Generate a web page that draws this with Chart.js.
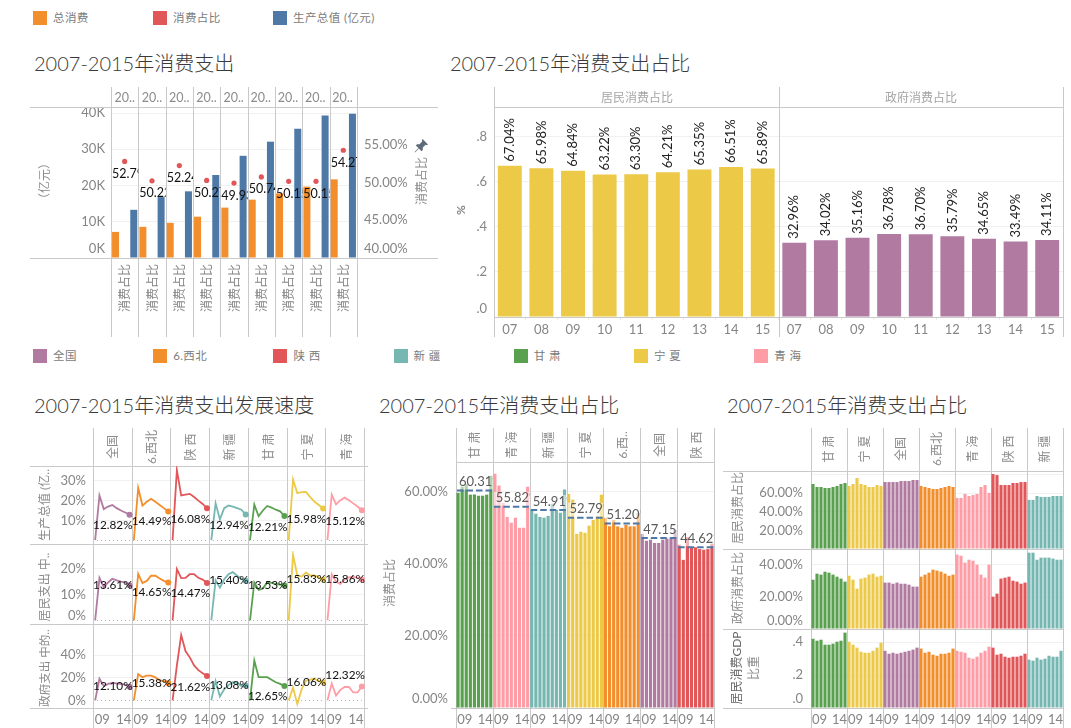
<!DOCTYPE html>
<html>
<head>
<meta charset="utf-8">
<script src="https://cdn.jsdelivr.net/npm/chart.js@4"></script>
<style>
body { margin: 0; background: #fff; overflow: hidden; font-family: Lato, 'Noto Sans CJK SC', sans-serif; }
#board { position: relative; width: 1071px; height: 728px; overflow: hidden; }
#board canvas, .txt, .swatch { position: absolute; }
.txt { white-space: pre; line-height: 1; transform: translate(-50%, -50%); }
.title { white-space: pre; position: absolute; font-size: 20px; font-weight: 300; color: #3a3a3a; line-height: 1; transform: translateY(-50%); }
</style>
</head>
<body>
<div id="board"></div>
<script>
// ---- data ----
const years = ['07', '08', '09', '10', '11', '12', '13', '14', '15']

const totalConsumption = [7200, 8600, 9700, 11400, 13900, 16100, 17800, 19700, 21700]
const consumptionShare = [52.79, 50.22, 52.24, 50.27, 49.93, 50.74, 50.15, 50.15, 54.27]
const grossOutput = [13300, 16800, 18400, 22900, 28200, 32100, 35700, 39300, 39800]

const residentShare = [67.04, 65.98, 64.84, 63.22, 63.30, 64.21, 65.35, 66.51, 65.89]
const governmentShare = [32.96, 34.02, 35.16, 36.78, 36.70, 35.79, 34.65, 33.49, 34.11]

// development speed, columns: 全国 6.西北 陕西 新疆 甘肃 宁夏 青海
const speedGdp = [
    [0, 22.6, 15.7, 17, 17.8, 16.2, 15, 14, 12.82],
    [0, 26.4, 17.5, 19.4, 20.9, 19.4, 17.8, 16.2, 14.49],
    [0, 35.4, 22.6, 23, 23.4, 21.8, 20, 18.3, 16.08],
    [0, 18.6, 10.5, 16.2, 17.5, 17, 16.2, 15.4, 12.94],
    [0, 18, 12.1, 15, 17.3, 16.5, 15.4, 14.6, 12.21],
    [0, 30.7, 23.8, 24.3, 24.4, 21.8, 19.4, 17.8, 15.98],
    [0, 23.1, 18.1, 20.2, 21.5, 20.2, 18.6, 17, 15.12]
]
const speedResident = [
    [0, 16.5, 12.9, 14.7, 16.1, 15.5, 15, 14.7, 13.61],
    [0, 18, 14.5, 15.3, 17.3, 17.3, 16.2, 15.3, 14.65],
    [0, 19.9, 16.4, 16.5, 17.9, 17.9, 16.5, 15.8, 14.47],
    [0, 15.5, 12.7, 15.9, 17.9, 18.7, 17.3, 16.1, 15.40],
    [0, 14.7, 11.8, 12.4, 14.7, 14.5, 14.1, 13.9, 13.53],
    [0, 25.4, 17.4, 17, 18.6, 17.4, 17.4, 16.7, 15.83],
    [0, 17.9, 15, 14.1, 15.9, 16.7, 16.9, 16.5, 15.86]
]
const speedGovernment = [
    [0, 19.1, 12.7, 14.6, 15.5, 14.9, 14.6, 14, 12.10],
    [0, 23.3, 20.5, 21.9, 21.9, 20.3, 17.7, 16.9, 15.38],
    [0, 30.9, 57.7, 43.6, 38, 30.9, 26.7, 23.9, 21.62],
    [0, 17.2, 3.4, 9.8, 13.5, 16, 15.5, 12.7, 13.08],
    [0, 35.2, 20.5, 20.5, 20.5, 18.3, 16, 14.6, 12.65],
    [0, 11.3, -3.4, 9.8, 17.4, 18.3, 19.1, 16.9, 16.06],
    [0, 14.9, 4.2, 9.3, 11.8, 11.8, 7, 7, 12.32]
]

// consumption share by region, columns: 甘肃 青海 新疆 宁夏 6.西北 全国 陕西
const shareByRegion = [
    [59.7, 61.4, 62.1, 59.2, 59.2, 58.9, 58.9, 59.2, 64.4],
    [65, 61.7, 56.9, 53, 51.4, 52.8, 50, 50, 61.4],
    [55, 53.9, 53, 52.8, 53.3, 56.7, 55, 54.2, 60.6],
    [59.4, 57.8, 48.3, 48.9, 48.6, 50.6, 52.2, 53.2, 59.2],
    [52.8, 50.4, 52.2, 50.4, 50, 50.8, 50.4, 50.4, 54.1],
    [48.3, 46.4, 46.7, 45.8, 45.8, 46.7, 47, 47, 49.4],
    [45.3, 41.1, 47.4, 44.6, 44.6, 44.1, 43.9, 44.1, 45.6]
]
const shareAverage = [60.31, 55.82, 54.91, 52.79, 51.20, 47.15, 44.62]

// columns: 甘肃 宁夏 全国 6.西北 青海 陕西 新疆
const residentByRegion = [
    [70, 66.8, 66.8, 65.7, 65.7, 66.8, 67.9, 70, 71.1],
    [67.9, 70, 76.4, 70, 68.9, 66.8, 66.8, 68.9, 67.9],
    [72.1, 72.1, 72.1, 72.1, 73.2, 73.2, 73.2, 74.3, 74.3],
    [67.9, 66.8, 65.7, 64.6, 64.6, 65.7, 66.8, 67.9, 66.8],
    [55, 55, 59.3, 57.1, 58.2, 59.3, 66.8, 68.9, 60.4],
    [80.7, 79.6, 68.9, 68.9, 68.9, 71.1, 71.1, 72.1, 72.1],
    [52.9, 52.9, 57.1, 56.1, 56.1, 56.1, 57.1, 57.1, 57.1]
]
const governmentByRegion = [
    [30.8, 34.6, 34, 35.8, 35.2, 34, 32.7, 31.5, 29.6],
    [33.3, 30.8, 25.2, 31.5, 32.1, 34, 34.6, 32.7, 33.3],
    [29, 29, 28.3, 29, 28.3, 28.3, 27.7, 26.5, 26.5],
    [32.7, 34, 35.2, 37.1, 36.5, 35.8, 34.6, 33.3, 34],
    [46.5, 45.8, 41.5, 43.3, 42.7, 40.2, 34, 32.1, 40.2],
    [20.2, 22.1, 31.5, 32.1, 32.7, 30.2, 29.6, 28.3, 29],
    [47.7, 47.7, 43.3, 44.6, 44.6, 44.6, 44, 43.3, 43.3]
]
const gdpRatioByRegion = [
    [.42, .408, .414, .384, .384, .39, .402, .408, .457],
    [.402, .384, .366, .341, .335, .335, .347, .366, .396],
    [.347, .329, .335, .329, .335, .341, .347, .354, .366],
    [.36, .335, .341, .323, .317, .329, .329, .335, .36],
    [.347, .341, .335, .305, .299, .311, .335, .347, .372],
    [.366, .323, .329, .311, .305, .311, .311, .317, .329],
    [.293, .287, .305, .293, .299, .317, .311, .311, .347]
]

const speedRegions = ['全国', '6.西北', '陕 西', '新 疆', '甘 肃', '宁 夏', '青 海']
const shareRegions = ['甘 肃', '青 海', '新 疆', '宁 夏', '6.西..', '全国', '陕 西']
const ratioRegions = ['甘 肃', '宁 夏', '全国', '6.西北', '青 海', '陕 西', '新 疆']

// ---- styles ----
const ORANGE = '#f28e2b', RED = '#e15759', BLUE = '#4e79a7', PURPLE = '#b07aa1'
const TEAL = '#76b7b2', GREEN = '#59a14f', YELLOW = '#edc948', PINK = '#ff9da7'
const regionColor = { '全国': PURPLE, '6.西北': ORANGE, '6.西..': ORANGE, '陕 西': RED, '新 疆': TEAL, '甘 肃': GREEN, '宁 夏': YELLOW, '青 海': PINK }
const TICK = '#858585', LINE = '#c9c9c9', GRID = '#f1f1f1'

// label offsets below the last point of each small line chart
const speedLabelDy = [
    [10, 10, 11, 11, 11, 11, 11],
    [0, 10, 10, 0, 0, 0, 0],
    [0, 0, 11, 0, 10, 0, -11]
]

Chart.defaults.animation = false
Chart.defaults.font.family = "Lato, 'Noto Sans CJK SC', sans-serif"
Chart.defaults.font.size = 13
Chart.defaults.color = TICK
Chart.defaults.plugins.legend.display = false
Chart.defaults.plugins.tooltip.enabled = false

const board = document.getElementById('board')

const txt = (text, x, y, opts = {}) => {
    const el = document.createElement('div')
    el.className = 'txt'
    el.textContent = text
    el.style.left = x + 'px'
    el.style.top = y + 'px'
    el.style.fontSize = (opts.size || 12) + 'px'
    el.style.color = opts.color || '#8c8c8c'
    if (opts.rot) el.style.transform = 'translate(-50%, -50%) rotate(-90deg)'
    board.appendChild(el)
}

const title = (text, x, y) => {
    const el = document.createElement('div')
    el.className = 'title'
    el.textContent = text
    el.style.left = x + 'px'
    el.style.top = y + 'px'
    board.appendChild(el)
}

const swatch = (color, x, y, label) => {
    const el = document.createElement('div')
    el.className = 'swatch'
    el.style.cssText = `left:${x}px;top:${y}px;width:14px;height:14px;background:${color}`
    board.appendChild(el)
    const t = document.createElement('div')
    t.className = 'title'
    t.textContent = label
    t.style.cssText = `left:${x + 20}px;top:${y + 7}px;font-size:11.5px;font-weight:400;color:#7b7b7b;letter-spacing:.4px`
    board.appendChild(t)
}

const makeChart = (left, top, width, height, config) => {
    const c = document.createElement('canvas')
    c.width = width
    c.height = height
    c.style.left = left + 'px'
    c.style.top = top + 'px'
    c.style.width = width + 'px'
    c.style.height = height + 'px'
    board.appendChild(c)
    config.options.responsive = false
    return new Chart(c, config)
}

// separators between cells, and rules at the top and bottom of the plot
const frame = {
    id: 'frame',
    beforeDatasetsDraw(chart, _, o) {
        const { ctx, chartArea: a } = chart
        ctx.save()
        ctx.strokeStyle = LINE
        ctx.lineWidth = 1
        ctx.beginPath()
        for (let i = 0; i <= o.cells; i++) {
            const x = Math.round(a.left + i * a.width / o.cells) + .5
            ctx.moveTo(x, 0)
            ctx.lineTo(x, chart.height)
        }
        if (o.top) {
            ctx.moveTo(o.topFrom === undefined ? o.from || 0 : o.topFrom, a.top + .5)
            ctx.lineTo(o.to || a.right + 1, a.top + .5)
        }
        ctx.moveTo(o.from || 0, a.bottom + .5)
        ctx.lineTo(o.to || a.right + 1, a.bottom + .5)
        ctx.stroke()
        ctx.restore()
    }
}

// the plot must keep its exact size, so tick labels may not pad the chart area
const fixPadding = (s) => {
    s.paddingTop = 0
    s.paddingBottom = 0
    s.paddingLeft = 0
    s.paddingRight = 0
}

const yAxis = (o) => ({
    type: 'linear',
    position: o.position || 'left',
    min: o.min,
    max: o.max,
    afterBuildTicks: (s) => { s.ticks = o.ticks.map((value) => ({ value })) },
    afterFit: (s) => { s.width = o.width; fixPadding(s) },
    ticks: {
        autoSkip: false,
        padding: o.pad,
        color: TICK,
        // half of the line height is how far a lifted label rises
        font: { size: 13, lineHeight: (o.liftPx || 8.5) * 2 / 13 },
        callback: (v) => {
            if (o.hide && o.hide.includes(v)) return ''
            return o.lift && o.lift.includes(v) ? [o.fmt(v), ''] : o.fmt(v)
        }
    },
    border: { display: false, dash: (ctx) => (o.dotZero && ctx.tick && ctx.tick.value === 0 ? [1, 3] : []) },
    grid: {
        drawOnChartArea: o.grid !== false,
        drawTicks: false,
        color: (ctx) => (o.dotZero && ctx.tick && ctx.tick.value === 0 ? '#b5b5b5' : GRID)
    }
})

const yearAxis = (labels, height, visible) => ({
    type: 'category',
    labels,
    offset: true,
    afterFit: (s) => { s.height = height; fixPadding(s) },
    grid: { display: false, drawTicks: false },
    border: { display: false },
    ticks: {
        display: visible,
        autoSkip: false,
        maxRotation: 0,
        padding: 4,
        labelOffset: -1.5,
        color: TICK,
        font: { size: 13 },
        callback: (v, i) => (i % 9 === 2 ? '09' : i % 9 === 7 ? '14' : '')
    }
})

const yearSlots = speedRegions.flatMap(() => years)

// ---- legends and titles ----
swatch(ORANGE, 33, 11, '总消费')
swatch(RED, 153, 11, '消费占比')
swatch(BLUE, 273, 11, '生产总值 (亿元)')
const legendRegions = ['全国', '6.西北', '陕 西', '新 疆', '甘 肃', '宁 夏', '青 海']
legendRegions.forEach((r, i) => swatch(regionColor[r], 33 + i * 120.2, 349, r))

title('2007-2015年消费支出', 34, 63)
title('2007-2015年消费支出占比', 450, 63)
title('2007-2015年消费支出发展速度', 34, 405)
title('2007-2015年消费支出占比', 379, 405)
title('2007-2015年消费支出占比', 727, 405)

// ---- panel 1: spending ----
const cellSlots = years.flatMap((y) => [y + 'a', y + 'b', y + 'c'])
const shareLabels = {
    id: 'shareLabels',
    afterDatasetsDraw(chart) {
        const { ctx, chartArea: a } = chart
        const cw = a.width / 9
        const pts = chart.getDatasetMeta(2).data
        ctx.save()
        ctx.font = '12.5px Lato'
        ctx.fillStyle = '#111'
        ctx.textBaseline = 'middle'
        consumptionShare.forEach((v, i) => {
            const cellLeft = a.left + i * cw
            ctx.save()
            ctx.beginPath()
            ctx.rect(cellLeft + 1, 0, cw - 1, chart.height)
            ctx.clip()
            ctx.fillText(v.toFixed(2) + '%', cellLeft + 1, pts[i * 3 + 1].y + 12.5)
            ctx.restore()
        })
        ctx.restore()
    }
}
makeChart(30, 87, 408, 250, {
    type: 'bar',
    data: {
        labels: cellSlots,
        datasets: [
            { data: years.flatMap((y, i) => [totalConsumption[i], null, null]), backgroundColor: ORANGE, barPercentage: .77, categoryPercentage: 1, grouped: false },
            { data: years.flatMap((y, i) => [null, null, grossOutput[i]]), backgroundColor: BLUE, barPercentage: .77, categoryPercentage: 1, grouped: false },
            { type: 'line', yAxisID: 'y1', showLine: false, data: years.flatMap((y, i) => [null, consumptionShare[i], null]), pointRadius: 2.6, pointBackgroundColor: RED, pointBorderWidth: 0 }
        ]
    },
    options: {
        layout: { padding: { top: 20, left: 0, right: 0, bottom: 0 } },
        scales: {
            x: {
                afterFit: (s) => { s.height = 79; fixPadding(s) },
                grid: { display: false, drawTicks: false },
                border: { display: false },
                ticks: {
                    autoSkip: false, minRotation: 90, maxRotation: 90, padding: 6, color: TICK,
                    font: { size: 12, family: "'Noto Sans CJK SC'" },
                    callback: (v, i) => (i % 3 === 1 ? '消费占比' : '')
                }
            },
            y: yAxis({ min: 0, max: 41670, ticks: [0, 10000, 20000, 30000, 40000], fmt: (v) => v / 1000 + 'K', width: 81, pad: 6, lift: [0], liftPx: 9 }),
            y1: yAxis({ position: 'right', min: 40, max: 60, ticks: [40, 45, 50, 55], fmt: (v) => v.toFixed(2) + '%', width: 81, pad: 7, lift: [40], liftPx: 9, grid: false })
        },
        plugins: { frame: { cells: 9, top: true, to: 408 } }
    },
    plugins: [frame, shareLabels]
})
years.forEach((y, i) => txt('20..', 124.8 + i * 27.2, 97.5, { size: 12.5 }))
txt('（亿元）', 45, 181, { rot: true })
txt('消费占比', 422, 181, { rot: true })
board.insertAdjacentHTML('beforeend', '<svg style="position:absolute;left:414px;top:139px" width="14" height="14" viewBox="0 0 14 14"><path fill="#5f6b7a" d="M8.6 0 14 5.4 12.8 6.2 11.6 5.8 8.8 8.6 8.8 11 7.6 12.2 4.9 9.5 1 13.4 0.6 13 4.5 9.1 1.8 6.4 3 5.2 5.4 5.2 8.2 2.4 7.8 1.2Z"/></svg>')

// ---- panel 2: resident / government share ----
const rotatedLabels = {
    id: 'rotatedLabels',
    afterDatasetsDraw(chart) {
        const { ctx } = chart
        const bars = chart.getDatasetMeta(0).data
        ctx.save()
        ctx.font = '13px Lato'
        ctx.fillStyle = '#222'
        ctx.textBaseline = 'middle'
        ctx.textAlign = 'left'
        chart.data.datasets[0].data.forEach((v, i) => {
            ctx.save()
            ctx.translate(bars[i].x, bars[i].y - 4)
            ctx.rotate(-Math.PI / 2)
            ctx.fillText((v * 100).toFixed(2) + '%', 0, 0)
            ctx.restore()
        })
        ctx.restore()
    }
}
const shareSeries = residentShare.concat(governmentShare)
makeChart(450, 87, 614, 250, {
    type: 'bar',
    data: {
        labels: years.concat(years),
        datasets: [{
            data: shareSeries.map((v) => v / 100),
            backgroundColor: shareSeries.map((v, i) => (i < 9 ? YELLOW : PURPLE)),
            barPercentage: .757,
            categoryPercentage: 1
        }]
    },
    options: {
        layout: { padding: { top: 20, left: 0, right: 1, bottom: 0 } },
        scales: {
            x: {
                afterFit: (s) => { s.height = 20; fixPadding(s) },
                grid: { drawOnChartArea: false, tickLength: 3, color: '#e9e9e9' },
                border: { display: false },
                ticks: { autoSkip: false, maxRotation: 0, padding: 2, color: TICK, font: { size: 13 } }
            },
            y: yAxis({ min: 0, max: .931, ticks: [0, .2, .4, .6, .8], fmt: (v) => v.toFixed(1).replace('0.', '.'), width: 44, pad: 7, lift: [0] })
        },
        plugins: { frame: { cells: 2, top: true, from: 44 } }
    },
    plugins: [frame, rotatedLabels]
})
txt('居民消费占比', 637, 97.5, { color: '#a5a5a5' })
txt('政府消费占比', 921, 97.5, { color: '#a5a5a5' })
txt('%', 461, 210, { rot: true, color: '#555' })

// ---- panel 3: development speed ----
const endLabels = {
    id: 'endLabels',
    afterDatasetsDraw(chart, _, o) {
        const { ctx, chartArea: a } = chart
        const cw = a.width / 7
        ctx.save()
        ctx.font = '11.8px Lato'
        ctx.fillStyle = '#111'
        ctx.textAlign = 'center'
        ctx.textBaseline = 'middle'
        chart.data.datasets.forEach((ds, i) => {
            const last = chart.getDatasetMeta(i).data[i * 9 + 8]
            ctx.fillText(ds.data[i * 9 + 8].toFixed(2) + '%', a.left + (i + .5) * cw + .5, last.y + o.dy[i])
        })
        ctx.restore()
    }
}
const speedDatasets = (rows) => rows.map((vals, i) => ({
    data: speedRegions.flatMap((r, k) => (k === i ? vals : years.map(() => null))),
    borderColor: regionColor[speedRegions[i]],
    backgroundColor: regionColor[speedRegions[i]],
    borderWidth: 1.8,
    pointRadius: (ctx) => (ctx.dataIndex === i * 9 + 8 ? 3 : 0),
    pointBorderWidth: 0,
    tension: 0
}))
const speedRow = (rows, dy, top, height, padTop, axisH, y) => makeChart(30, top, 338, height, {
    type: 'line',
    data: { labels: yearSlots, datasets: speedDatasets(rows) },
    options: {
        layout: { padding: { top: padTop, left: 0, right: 1, bottom: axisH ? 0 : 1 } },
        scales: { x: yearAxis(yearSlots, axisH || 0, !!axisH), y: y },
        plugins: { frame: { cells: 7, top: padTop > 0, to: 338 }, endLabels: { dy } }
    },
    plugins: [frame, endLabels]
})
const pct = (v) => v + '%'
speedRow(speedGdp, speedLabelDy[0], 428, 120, 38, 0,
    yAxis({ min: -1.94, max: 37.5, ticks: [0, 10, 20, 30], fmt: pct, width: 63, pad: 7, hide: [0], dotZero: true }))
speedRow(speedResident, speedLabelDy[1], 547, 81, 0, 0,
    yAxis({ min: -1.41, max: 26.9, ticks: [0, 10, 20], fmt: pct, width: 63, pad: 7, lift: [0], liftPx: 5, dotZero: true }))
speedRow(speedGovernment, speedLabelDy[2], 627, 101, 0, 20,
    yAxis({ min: -6.75, max: 61.3, ticks: [0, 20, 40], fmt: pct, width: 63, pad: 7, dotZero: true }))
speedRegions.forEach((r, i) => txt(r, 112.8 + i * 39.05, 447, { rot: true }))
txt('生产总值 (亿..', 45, 505, { rot: true })
txt('居民支出 中..', 45, 587, { rot: true })
txt('政府支出 中的..', 45, 668, { rot: true, size: 11.5 })

// ---- panel 4: share by region with averages ----
const averageMarks = {
    id: 'averageMarks',
    afterDatasetsDraw(chart) {
        const { ctx, chartArea: a, scales: { y } } = chart
        const cw = a.width / 7
        ctx.save()
        shareAverage.forEach((v, i) => {
            const left = a.left + i * cw
            const py = y.getPixelForValue(v)
            ctx.save()
            ctx.beginPath()
            ctx.rect(left + 1, 0, cw - 1, chart.height)
            ctx.clip()
            ctx.fillStyle = 'rgba(255,255,255,.55)'
            ctx.fillRect(left + 1, py - 15, cw - 1, 14)
            ctx.strokeStyle = BLUE
            ctx.lineWidth = 2
            ctx.setLineDash([6.5, 3])
            ctx.beginPath()
            ctx.moveTo(left + 1, py)
            ctx.lineTo(left + cw, py)
            ctx.stroke()
            ctx.font = '13px Lato'
            ctx.fillStyle = '#5a5a5a'
            ctx.textBaseline = 'middle'
            ctx.fillText(v.toFixed(2) + '%', left + 3, py - 8.5)
            ctx.restore()
        })
        ctx.restore()
    }
}
makeChart(390, 428, 325, 300, {
    type: 'bar',
    data: {
        labels: yearSlots,
        datasets: [{
            data: shareByRegion.flat(),
            backgroundColor: shareByRegion.flatMap((vals, i) => vals.map(() => regionColor[shareRegions[i]])),
            barPercentage: .78,
            categoryPercentage: 1
        }]
    },
    options: {
        layout: { padding: { top: 34, left: 0, right: 1, bottom: 0 } },
        scales: {
            x: yearAxis(yearSlots, 20, true),
            y: yAxis({ min: 0, max: 68.25, ticks: [0, 20, 40, 60], fmt: (v) => v.toFixed(2) + '%', width: 66, pad: 8, lift: [0], liftPx: 9 })
        },
        plugins: { frame: { cells: 7, top: true, from: 61, topFrom: 66 } }
    },
    plugins: [frame, averageMarks]
})
shareRegions.forEach((r, i) => txt(r, 474.8 + i * 37, 445, { rot: true }))
txt('消费占比', 390, 583, { rot: true })

// ---- panel 5: residents, government, GDP ratio ----
const ratioRow = (rows, top, height, padTop, axisH, y) => makeChart(723, top, 341, height, {
    type: 'bar',
    data: {
        labels: yearSlots,
        datasets: [{
            data: rows.flat(),
            backgroundColor: rows.flatMap((vals, i) => vals.map(() => regionColor[ratioRegions[i]])),
            barPercentage: .78,
            categoryPercentage: 1
        }]
    },
    options: {
        layout: { padding: { top: padTop, left: 0, right: 1, bottom: axisH ? 0 : 1 } },
        scales: { x: yearAxis(yearSlots, axisH || 0, !!axisH), y: y },
        plugins: { frame: { cells: 7, top: padTop > 0 } }
    },
    plugins: [frame]
})
const pct2 = (v) => v.toFixed(2) + '%'
ratioRow(residentByRegion, 428, 122, 43, 0,
    yAxis({ min: 0, max: 84, ticks: [0, 20, 40, 60, 80], fmt: pct2, width: 88, pad: 8, hide: [0, 80] }))
ratioRow(governmentByRegion, 549, 81, 0, 0,
    yAxis({ min: 0, max: 50, ticks: [0, 20, 40], fmt: pct2, width: 88, pad: 8, lift: [0] }))
ratioRow(gdpRatioByRegion, 629, 99, 0, 20,
    yAxis({ min: 0, max: .479, ticks: [0, .2, .4], fmt: (v) => v.toFixed(1).replace('0.', '.'), width: 88, pad: 8, lift: [0], liftPx: 9 }))
ratioRegions.forEach((r, i) => txt(r, 829.3 + i * 36, 449, { rot: true }))
txt('居民消费占比', 738, 508, { rot: true })
txt('政府消费占比', 738, 588, { rot: true })
txt('居民消费GDP', 737, 668, { rot: true, color: '#666' })
txt('比重', 754, 668, { rot: true })
</script>
</body>
</html>
